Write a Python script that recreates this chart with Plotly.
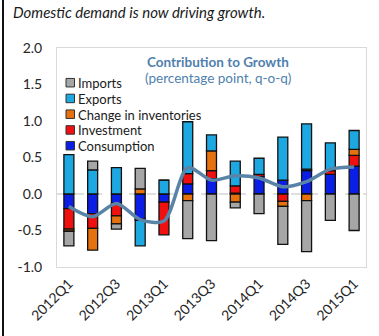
import plotly.graph_objects as go

# Quarterly contributions to GDP growth (percentage points, q-o-q)
quarters = ["2012Q1", "2012Q2", "2012Q3", "2012Q4", "2013Q1", "2013Q2", "2013Q3",
            "2013Q4", "2014Q1", "2014Q2", "2014Q3", "2014Q4", "2015Q1"]
consumption = [-0.20, -0.27, -0.13, -0.34, -0.11, 0.14, 0.21, 0.01, 0.24, 0.19, 0.32, 0.27, 0.38]
investment = [-0.28, -0.20, -0.17, -0.02, -0.45, 0.14, 0.11, 0.10, 0.03, -0.10, 0.02, 0.05, 0.15]
inventories = [-0.03, -0.30, -0.11, 0.07, 0.00, -0.09, 0.27, -0.11, 0.00, -0.07, -0.09, 0.00, 0.08]
exports = [0.54, 0.33, 0.36, -0.35, 0.19, 0.71, 0.22, 0.34, 0.22, 0.59, 0.62, 0.38, 0.26]
imports = [-0.20, 0.12, -0.07, 0.28, 0.00, -0.52, -0.64, -0.08, -0.27, -0.52, -0.70, -0.36, -0.50]
growth = [-0.17, -0.31, -0.13, -0.35, -0.37, 0.36, 0.19, 0.25, 0.22, 0.10, 0.17, 0.34, 0.37]

y_ticks = [-1.0, -0.5, 0.0, 0.5, 1.0, 1.5, 2.0]
y_tick_labels = ["-1.0", "-0.5", "0.0", "0.5", "1.0", "1.5", "2.0"]
x_tick_labels = quarters[::2]

series = [
    ("Consumption", consumption, "#0a1ee6"),
    ("Investment", investment, "#f01010"),
    ("Change in inventories", inventories, "#e5720e"),
    ("Exports", exports, "#1ea8e2"),
    ("Imports", imports, "#a6a6a6"),
]

FONT = "Lato, 'Noto Sans', sans-serif"
W, H = 379, 336
ML, MR, MT, MB = 57, 13, 48, 67
PW, PH = W - ML - MR, H - MT - MB


def px(x):
    return (x - ML) / PW


def py(y):
    return (H - MB - y) / PH


fig = go.Figure()
for name, vals, color in series:
    fig.add_trace(go.Bar(
        x=quarters, y=vals, name=name,
        marker=dict(color=color, line=dict(color="#111111", width=1.3)),
        showlegend=False,
    ))

fig.add_trace(go.Scatter(
    x=quarters, y=growth, mode="lines", name="GDP growth",
    line=dict(color="#5a83a8", width=3.5, shape="spline", smoothing=0.8),
    showlegend=False,
))

shapes = [
    # dashed zero line
    dict(type="line", xref="paper", yref="y", x0=0, x1=1, y0=0, y1=0,
         line=dict(color="#bfbfbf", width=1, dash="dash"), layer="below"),
    # left frame rule of the panel
    dict(type="line", xref="paper", yref="paper", x0=px(3), x1=px(3), y0=py(-5), y1=py(340),
         line=dict(color="#111111", width=2)),
]

annotations = [
    dict(text="<i>Domestic demand is now driving growth.</i>", xref="paper", yref="paper",
         x=px(11), y=py(12), xanchor="left", yanchor="middle", showarrow=False,
         font=dict(family=FONT, size=15, color="#1a1a1a")),
    dict(text="<b>Contribution to Growth</b>", xref="paper", yref="paper",
         x=px(218), y=py(62), xanchor="center", yanchor="middle", showarrow=False,
         font=dict(family=FONT, size=13.5, color="#4f7fae")),
    dict(text="(percentage point, q-o-q)", xref="paper", yref="paper",
         x=px(218), y=py(78), xanchor="center", yanchor="middle", showarrow=False,
         font=dict(family=FONT, size=13.5, color="#4f7fae")),
]

# legend, listed top-down in reverse stacking order
for i, (name, vals, color) in enumerate(reversed(series)):
    yc = 83 + 15.9 * i
    shapes.append(dict(type="rect", xref="paper", yref="paper",
                       x0=px(66), x1=px(74.5), y0=py(yc - 4.3), y1=py(yc + 4.3),
                       fillcolor=color, line=dict(color="#333333", width=1)))
    annotations.append(dict(text=name, xref="paper", yref="paper",
                            x=px(76.5), y=py(yc), xanchor="left", yanchor="middle",
                            showarrow=False, height=15, borderpad=0,
                            font=dict(family=FONT, size=13, color="#1a1a1a")))

fig.update_layout(
    width=W, height=H,
    margin=dict(l=ML, r=MR, t=MT, b=MB, pad=0),
    barmode="relative", bargap=0.58,
    plot_bgcolor="white", paper_bgcolor="white",
    font=dict(family=FONT, size=14, color="#262626"),
    shapes=shapes, annotations=annotations,
    showlegend=False,
)
fig.update_xaxes(
    type="category", tickmode="array", tickvals=x_tick_labels, ticktext=x_tick_labels,
    tickangle=-45, ticks="", showgrid=False, zeroline=False,
    showline=True, linecolor="#d9d9d9", linewidth=1, mirror=True,
    tickfont=dict(family=FONT, size=14, color="#262626"), ticklabelstandoff=2,
)
fig.update_yaxes(
    range=[-1.0, 2.0], tickmode="array", tickvals=y_ticks, ticktext=y_tick_labels,
    ticks="", showgrid=False, zeroline=False,
    showline=True, linecolor="#d9d9d9", linewidth=1, mirror=True,
    tickfont=dict(family=FONT, size=14, color="#262626"), ticklabelstandoff=11,
)

fig.write_html("out.html")
